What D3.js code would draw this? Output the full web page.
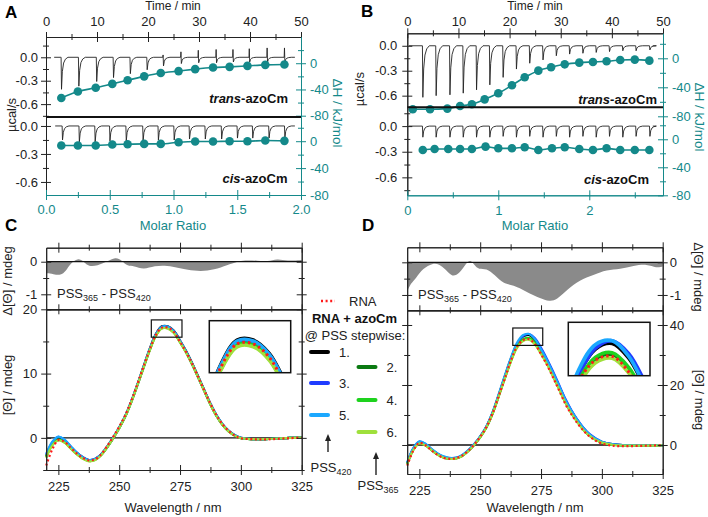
<!DOCTYPE html>
<html>
<head>
<meta charset="utf-8">
<script src="https://cdn.jsdelivr.net/npm/d3@7"></script>
<style>body{margin:0;background:#fff}svg{display:block}</style>
</head>
<body>
<script>
// ---------- ITC data, panel A ----------
var aTransTime = [2.9, 6.3, 9.8, 13.1, 16.4, 19.7, 22.9, 26.4, 29.8, 33.3, 36.6, 39.8, 43.3, 46.7];
var aTransDown = [-0.41, -0.37, -0.31, -0.26, -0.21, -0.16, -0.11, -0.08, -0.07, -0.07, -0.06, -0.06, -0.06, -0.06];
var aTransUp = [0, 0, 0, 0, 0, 0, 0.03, 0.07, 0.09, 0.1, 0.1, 0.11, 0.12, 0.12];
var aCisTime = [3.1, 6.4, 9.5, 12.4, 15.6, 18.9, 21.9, 25.0, 28.0, 31.1, 34.3, 37.4, 40.4, 43.6, 46.7];
var aCisDown = [-0.15, -0.17, -0.17, -0.16, -0.16, -0.16, -0.15, -0.15, -0.14, -0.14, -0.14, -0.13, -0.13, -0.13, -0.13];
var aMolar = [0.12, 0.25, 0.39, 0.52, 0.64, 0.77, 0.90, 1.04, 1.17, 1.31, 1.44, 1.58, 1.72, 1.87];
var aTransH = [-53, -43, -37.5, -31.5, -26, -20, -15, -12, -9, -6.5, -5.5, -4, -2.5, -2];
var aCisH = [-6.3, -6.3, -6.3, -5, -4.5, -4, -4, -1.5, -0.5, -0.5, 0, 0, 1, 0.5];

// ---------- ITC data, panel B ----------
var bTransTime = [2.9, 5.5, 8.2, 10.8, 13.4, 16.0, 18.6, 21.2, 23.8, 26.4, 29.0, 31.6, 34.2, 36.8, 39.4, 42.0, 44.6, 47.3];
var bTransDown = [-0.62, -0.6, -0.59, -0.57, -0.53, -0.47, -0.38, -0.28, -0.21, -0.17, -0.12, -0.1, -0.09, -0.08, -0.07, -0.06, -0.06, -0.05];
var bCisTime = [2.9, 5.5, 8.2, 10.8, 13.4, 16.0, 18.6, 21.2, 23.8, 26.4, 29.0, 31.6, 34.2, 36.8, 39.4, 42.0, 44.6, 47.3];
var bCisDown = [-0.13, -0.13, -0.13, -0.13, -0.13, -0.13, -0.12, -0.13, -0.12, -0.13, -0.12, -0.13, -0.12, -0.13, -0.12, -0.13, -0.12, -0.12];
var bTransMolar = [0.06, 0.25, 0.44, 0.58, 0.71, 0.85, 1.0, 1.15, 1.29, 1.44, 1.58, 1.73, 1.89, 2.04, 2.19, 2.34, 2.5, 2.66];
var bTransH = [-70.3, -70.3, -69.4, -65.7, -63.4, -56.6, -48.3, -37.2, -26.2, -17, -12.4, -8.3, -6, -5, -4.1, -2.3, -1.8, -3.2];
var bCisMolar = [0.17, 0.3, 0.45, 0.58, 0.71, 0.86, 1.0, 1.15, 1.29, 1.44, 1.59, 1.73, 1.89, 2.04, 2.19, 2.34, 2.5, 2.66];
var bCisH = [-15.2, -13.8, -13.8, -13.8, -13.8, -10.5, -12.9, -12.9, -11.4, -15.2, -12.9, -11.4, -13.8, -15.2, -12.9, -15.2, -15.2, -15.2];

// shape of one injection peak (minutes after start, fraction of up / down amplitude)
var pkT = [0, 0.06, 0.14, 0.3, 0.55, 0.9, 1.4];
var pkUp = [0, 1, 0, 0, 0, 0, 0];
var pkDown = [0, 0, 1, 0.45, 0.18, 0.06, 0];

// ---------- CD spectra ----------
var wl = [220,222.5,225,227.5,230,232.5,235,237.5,240,242.5,245,247.5,250,252.5,255,257.5,260,262.5,265,267.5,270,272.5,275,277.5,280,282.5,285,287.5,290,292.5,295,297.5,300,305,310,315,320,325];

var c1 = [-2.8,-0.9,0.0,-0.4,-1.4,-2.3,-3.0,-3.45,-3.3,-2.6,-1.4,0.0,1.6,3.4,5.7,8.3,11.1,13.8,16.1,17.35,17.35,16.65,15.15,13.5,11.6,9.5,7.4,5.3,3.5,2.1,1.1,0.4,0.0,-0.2,-0.2,-0.1,0.0,0.05];
var c3 = [-2.6,-0.7,0.15,-0.3,-1.3,-2.3,-3.0,-3.45,-3.3,-2.6,-1.4,0.0,1.6,3.4,5.7,8.3,11.0,13.7,16.0,17.25,17.25,16.55,15.05,13.4,11.5,9.4,7.3,5.3,3.5,2.1,1.1,0.4,0.0,-0.2,-0.2,-0.1,0.0,0.05];
var c5 = [-2.5,-0.6,0.2,-0.25,-1.25,-2.25,-3.0,-3.45,-3.3,-2.6,-1.4,0.0,1.6,3.4,5.7,8.3,11.1,13.8,16.05,17.3,17.3,16.6,15.1,13.45,11.55,9.45,7.35,5.3,3.5,2.1,1.1,0.4,0.0,-0.2,-0.2,-0.1,0.0,0.05];
var c2 = [-3.0,-1.1,-0.3,-0.7,-1.6,-2.5,-3.2,-3.6,-3.45,-2.7,-1.5,-0.1,1.5,3.3,5.6,8.2,10.9,13.6,15.85,17.05,17.05,16.35,14.9,13.3,11.4,9.4,7.3,5.2,3.4,2.0,1.0,0.35,-0.05,-0.2,-0.2,-0.1,0.0,0.05];
var c4 = [-2.9,-1.0,-0.25,-0.65,-1.55,-2.45,-3.15,-3.55,-3.4,-2.7,-1.5,-0.05,1.55,3.35,5.65,8.25,10.95,13.65,15.9,17.1,17.1,16.4,14.95,13.35,11.45,9.4,7.3,5.2,3.4,2.0,1.0,0.35,-0.05,-0.2,-0.2,-0.1,0.0,0.05];
var c6 = [-3.1,-1.2,-0.4,-0.75,-1.65,-2.55,-3.25,-3.65,-3.5,-2.75,-1.5,-0.1,1.5,3.3,5.6,8.2,10.9,13.55,15.8,17.0,17.0,16.3,14.85,13.25,11.4,9.35,7.25,5.2,3.4,2.0,1.0,0.35,-0.05,-0.2,-0.2,-0.1,0.0,0.05];
var cRna = [-4.3,-1.8,-0.35,-0.6,-1.5,-2.4,-3.1,-3.5,-3.35,-2.6,-1.3,0.15,1.75,3.55,5.8,8.4,11.1,13.7,15.95,17.15,17.15,16.45,14.95,13.35,11.5,9.45,7.35,5.3,3.5,2.1,1.1,0.35,-0.05,-0.2,-0.25,-0.15,-0.05,0.05];

var d1 = [-6.1,-1.3,1.0,0.2,-1.5,-3.0,-4.0,-4.45,-4.35,-3.55,-1.95,0.15,2.75,6.0,10.6,16.4,22.6,28.5,33.4,36.1,36.7,35.1,31.8,28.1,23.9,19.5,15.0,11.3,8.2,5.5,3.4,2.0,1.0,0.2,-0.1,-0.1,-0.1,-0.1];
var d3v = [-6.0,-1.2,1.1,0.3,-1.4,-2.9,-3.9,-4.4,-4.3,-3.5,-1.9,0.2,2.8,6.0,10.5,16.3,22.4,28.3,33.3,36.2,37.0,35.6,32.4,28.6,24.4,19.9,15.4,11.6,8.4,5.7,3.6,2.2,1.1,0.2,-0.1,-0.1,-0.1,-0.1];
var d5 = [-5.8,-1.0,1.2,0.4,-1.3,-2.8,-3.8,-4.3,-4.2,-3.4,-1.8,0.3,2.9,6.2,10.8,16.7,22.9,28.8,33.9,36.6,37.0,35.3,31.9,28.2,24.0,19.6,15.1,11.4,8.3,5.6,3.5,2.1,1.1,0.2,-0.1,-0.1,-0.1,-0.1];
var d2 = [-6.4,-1.6,0.6,-0.1,-1.7,-3.2,-4.2,-4.6,-4.5,-3.7,-2.1,0.0,2.6,5.8,10.3,16.0,22.0,27.7,32.5,35.0,35.5,33.9,30.7,27.1,22.9,18.6,14.2,10.6,7.6,5.0,3.0,1.7,0.8,0.0,-0.2,-0.2,-0.2,-0.1];
var d4 = [-6.3,-1.5,0.7,0.0,-1.6,-3.1,-4.1,-4.55,-4.45,-3.65,-2.05,0.05,2.65,5.85,10.35,16.1,22.1,27.9,32.7,35.2,35.7,34.1,30.9,27.3,23.1,18.8,14.4,10.8,7.7,5.1,3.1,1.8,0.8,0.0,-0.2,-0.2,-0.2,-0.1];
var d6 = [-6.5,-1.7,0.5,-0.15,-1.75,-3.25,-4.25,-4.65,-4.55,-3.75,-2.15,-0.05,2.55,5.75,10.2,15.9,21.8,27.5,32.2,34.6,35.1,33.5,30.3,26.8,22.7,18.4,14.1,10.5,7.5,4.9,3.0,1.7,0.8,0.0,-0.2,-0.2,-0.2,-0.1];
var dRna = [-6.9,-1.9,0.7,-0.1,-1.8,-3.3,-4.3,-4.6,-4.4,-3.6,-2.0,0.1,2.7,5.9,10.4,16.1,21.9,27.9,32.6,34.9,35.3,33.6,30.3,26.6,22.4,18.1,13.7,10.2,7.2,4.7,2.8,1.4,0.5,-0.3,-0.4,-0.3,-0.2,-0.1];

// difference spectra PSS365 - PSS420
var cDiffW = [220,223,226,228,230,233,235.5,237.5,241,245,248.5,251,253.5,256,260,264.5,270,274,278,283.5,289,294.5,298.5,301.5,307,311,315,319,325];
var cDiffV = [-0.35,-0.38,-0.42,-0.3,-0.05,0.12,0,-0.15,-0.12,0,0.15,0.05,-0.15,-0.12,-0.25,-0.12,-0.12,-0.18,-0.25,-0.3,-0.25,-0.1,0,0.05,0.03,0,0.1,0.02,0.05];
var dDiffW = [220,221.5,223.5,226.5,230.5,233,236,238.5,241.5,244,246,247.5,249.5,252.5,256,259.5,263.5,269,274.5,278.5,281.5,285.5,291,296.5,302,307.5,313,318.5,322.5,325];
var dDiffV = [-0.9,-0.64,-0.5,-0.18,-0.03,-0.05,-0.23,-0.46,-0.34,-0.05,0.09,-0.08,-0.23,-0.18,-0.39,-0.66,-0.69,-0.9,-1.1,-1.2,-1.15,-0.85,-0.54,-0.39,-0.23,-0.21,-0.11,-0.05,-0.18,-0.13];

var seriesOrder = ["s1", "s2", "s3", "s4", "s5", "s6", "rna"];
var seriesColor = {s1: "#000000", s2: "#0b7a12", s3: "#1f3cff", s4: "#1ed21e", s5: "#1ba8ff", s6: "#9fe03c", rna: "#ff1a1a"};

var FONT = "'Liberation Sans', Arial, sans-serif";
var TEAL = "#14898a";
var INK = "#222";

var svg = d3.select("body").append("svg").attr("width", 708).attr("height", 517)
  .style("font-family", FONT);

// axis with ticks crossing the line (Origin style)
function ax(g, kind, scale, majors, minors, o) {
  o = o || {};
  var gen = {left: d3.axisLeft, right: d3.axisRight, top: d3.axisTop, bottom: d3.axisBottom}[kind];
  var col = o.color || INK;
  var G = g.append("g").attr("transform", "translate(" + (o.x || 0) + "," + (o.y || 0) + ")");
  if (minors) G.append("g").call(gen(scale).tickValues(minors).tickSize(3).tickSizeOuter(0).tickFormat(""));
  G.append("g").call(gen(scale).tickValues(majors).tickSize(5).tickSizeOuter(0)
    .tickPadding(o.pad == null ? 3 : o.pad)
    .tickFormat(o.noLabels ? "" : (o.fmt || function(d) { return d; })));
  var vert = kind == "left" || kind == "right";
  G.selectAll(".tick line").each(function() {
    var l = d3.select(this);
    if (vert) l.attr("x1", -l.attr("x2")); else l.attr("y1", -l.attr("y2"));
  });
  G.selectAll("path.domain").attr("stroke", col).attr("stroke-width", o.sw || 1);
  G.selectAll(".tick line").attr("stroke", col).attr("stroke-width", 1);
  G.selectAll("text").attr("fill", col).style("font-family", FONT).style("font-size", (o.fs || 13) + "px");
  return G;
}

function txt(x, y, s, o) {
  o = o || {};
  var t = svg.append("text").attr("x", x).attr("y", y).attr("font-size", o.fs || 13)
    .attr("fill", o.color || INK).attr("text-anchor", o.anchor || "start").text(s);
  if (o.bold) t.attr("font-weight", "bold");
  if (o.rot) t.attr("transform", "rotate(" + o.rot + "," + x + "," + y + ")").attr("dy", "0.35em");
  return t;
}

function pssLabel(x, y, parts, anchor) {
  var t = svg.append("text").attr("x", x).attr("y", y).attr("font-size", 13).attr("fill", INK)
    .attr("text-anchor", anchor || "start");
  parts.forEach(function(p) {
    if (p.sub) t.append("tspan").attr("font-size", 9).attr("dy", 3).text(p.s);
    else t.append("tspan").attr("dy", p.after ? -3 : 0).text(p.s);
  });
}

function azoLabel(x, y, pre) {
  var t = svg.append("text").attr("x", x).attr("y", y).attr("font-size", 13).attr("font-weight", "bold")
    .attr("fill", "#111").attr("text-anchor", "end");
  t.append("tspan").attr("font-style", "italic").text(pre);
  t.append("tspan").text("-azoCm");
}

// ---------- ITC panel ----------
function itc(p) {
  var g = svg.append("g");
  var time = d3.scaleLinear().domain([0, 50]).range([p.x0, p.x1]);
  var molar = d3.scaleLinear().domain([0, p.mMax]).range([p.x0, p.x1]);
  var uL = d3.scaleLinear().domain(p.uL).range([p.yT, p.yM]);
  var uR = d3.scaleLinear().domain(p.uR).range([p.yT, p.uRBot]);
  var lL = d3.scaleLinear().domain(p.lL).range([p.yM, p.yB]);
  var lR = d3.scaleLinear().domain(p.lR).range([p.yM, p.yB]);

  // raw power traces
  [[p.trans, uL], [p.cis, lL]].forEach(function(pair) {
    var tr = pair[0], y = pair[1];
    var pts = [[tr.start, 0]];
    tr.times.forEach(function(t, i) {
      pkT.forEach(function(dt, k) {
        pts.push([t + dt, (tr.up ? tr.up[i] : 0) * pkUp[k] + tr.down[i] * pkDown[k]]);
      });
    });
    pts.push([tr.end, 0]);
    g.append("path").datum(pts)
      .attr("d", d3.line().x(function(d) { return time(d[0]); }).y(function(d) { return y(d[1]); }))
      .attr("fill", "none").attr("stroke", "#222").attr("stroke-width", 0.9);
  });

  // integrated heats
  [[p.tDots, uR], [p.cDots, lR]].forEach(function(pair) {
    var dd = pair[0], y = pair[1];
    var pts = dd.x.map(function(v, i) { return [v, dd.h[i]]; });
    g.append("path").datum(pts)
      .attr("d", d3.line().x(function(d) { return molar(d[0]); }).y(function(d) { return y(d[1]); }).curve(d3.curveMonotoneX))
      .attr("fill", "none").attr("stroke", TEAL).attr("stroke-width", 1.6);
    g.selectAll(null).data(pts).enter().append("circle")
      .attr("cx", function(d) { return molar(d[0]); })
      .attr("cy", function(d) { return y(d[1]); })
      .attr("r", 4.3).attr("fill", TEAL);
  });

  var fmt1 = function(d) { return d.toFixed(1); };
  ax(g, "top", time, [0, 10, 20, 30, 40, 50], [5, 15, 25, 35, 45], {y: p.yT, pad: p.topPad});
  ax(g, "left", uL, [0, -0.3, -0.6], p.uLminor, {x: p.x0, fmt: fmt1, pad: p.leftPad});
  ax(g, "left", lL, [0, -0.3, -0.6], p.lLminor, {x: p.x0, fmt: fmt1, pad: p.leftPad});
  ax(g, "right", uR, [0, -40, -80], [20, -20, -60], {x: p.x1, color: TEAL, pad: 4});
  ax(g, "right", lR, [0, -40, -80], [20, -20, -60], {x: p.x1, color: TEAL, pad: 4});
  ax(g, "bottom", molar, p.mMajor, p.mMinor, {y: p.yB, color: TEAL, pad: 5, fmt: p.mFmt});
  g.append("line").attr("x1", p.x0).attr("x2", p.x1).attr("y1", p.yM).attr("y2", p.yM)
    .attr("stroke", "#111").attr("stroke-width", 2);
}

itc({
  x0: 46, x1: 301, yT: 37, yM: 117, yB: 195, uRBot: 117,
  uL: [0.26, -0.765], uR: [40, -82], lL: [0.096, -0.74], lR: [36, -80], mMax: 2,
  uLminor: [0.15, -0.15, -0.45, -0.75], lLminor: [-0.15, -0.45],
  mMajor: [0, 0.5, 1, 1.5, 2], mMinor: [0.25, 0.75, 1.25, 1.75], mFmt: function(d) { return d.toFixed(1); },
  topPad: 6.5, leftPad: 3,
  trans: {times: aTransTime, down: aTransDown, up: aTransUp, start: 1.6, end: 48.8},
  cis: {times: aCisTime, down: aCisDown, start: 1.8, end: 48.8},
  tDots: {x: aMolar, h: aTransH}, cDots: {x: aMolar, h: aCisH}
});

itc({
  x0: 407.3, x1: 663, yT: 33.3, yM: 107.3, yB: 195.3, uRBot: 116.3,
  uL: [0.15, -0.74], uR: [34.5, -80], lL: [0.22, -0.81], lR: [45.7, -80], mMax: 2.81,
  uLminor: [-0.15, -0.45], lLminor: [0.15, -0.15, -0.45, -0.75],
  mMajor: [0, 1, 2], mMinor: [0.5, 1.5, 2.5], mFmt: function(d) { return d; },
  topPad: 2.8, leftPad: 5,
  trans: {times: bTransTime, down: bTransDown, start: 0.3, end: 48},
  cis: {times: bCisTime, down: bCisDown, start: 0.3, end: 48},
  tDots: {x: bTransMolar, h: bTransH}, cDots: {x: bCisMolar, h: bCisH}
});

// ITC titles
txt(5, 18, "A", {fs: 17, bold: true, color: "#000"});
txt(361, 17, "B", {fs: 17, bold: true, color: "#000"});
txt(173, 10, "Time / min", {anchor: "middle", fs: 12});
txt(535, 10, "Time / min", {anchor: "middle", fs: 12});
txt(173, 229.5, "Molar Ratio", {anchor: "middle", color: TEAL});
txt(535, 229.5, "Molar Ratio", {anchor: "middle", color: TEAL});
txt(11, 115, "µcal/s", {anchor: "middle", rot: -90});
txt(359, 89, "µcal/s", {anchor: "middle", rot: -90});
txt(338, 113, "ΔH / kJ/mol", {anchor: "middle", rot: 90, color: TEAL, fs: 13.5});
txt(700, 117, "ΔH / kJ/mol", {anchor: "middle", rot: 90, color: TEAL, fs: 13.5});
azoLabel(288, 102.5, "trans");
azoLabel(287.5, 182.5, "cis");
azoLabel(657, 103.5, "trans");
azoLabel(649, 183.5, "cis");

// ---------- CD panel ----------
function cd(p) {
  var g = svg.append("g");
  var x = d3.scaleLinear().domain([220, 325]).range([p.x0, p.x1]);
  var yd = d3.scaleLinear().domain(p.dDom).range([p.yT, p.yM]);
  var ym = d3.scaleLinear().domain(p.mDom).range([p.yM, p.yB]);

  // difference spectrum
  var dpts = p.dW.map(function(w, i) { return [w, p.dV[i]]; });
  g.append("path").datum(dpts)
    .attr("d", d3.area().x(function(d) { return x(d[0]); }).y0(yd(0)).y1(function(d) { return yd(d[1]); }).curve(d3.curveBasis))
    .attr("fill", "#8a8a8a");
  g.append("line").attr("x1", p.x0).attr("x2", p.x1).attr("y1", yd(0)).attr("y2", yd(0))
    .attr("stroke", "#111").attr("stroke-width", 1.3);
  g.append("line").attr("x1", p.x0).attr("x2", p.x1).attr("y1", ym(0)).attr("y2", ym(0))
    .attr("stroke", "#111").attr("stroke-width", 1.3);

  function drawSeries(gg, xs, ys, w, dotted) {
    var line = d3.line().x(function(d) { return xs(d[0]); }).y(function(d) { return ys(d[1]); })
      .curve(d3.curveCatmullRom.alpha(0.5));
    seriesOrder.forEach(function(k) {
      var pts = wl.map(function(v, i) { return [v, p.series[k][i]]; });
      var path = gg.append("path").datum(pts).attr("d", line).attr("fill", "none")
        .attr("stroke", seriesColor[k]).attr("stroke-width", k == "rna" ? dotted[0] : w);
      if (k == "rna") path.attr("stroke-dasharray", dotted[1]);
    });
  }
  drawSeries(g, x, ym, 2.2, [2.2, "2,2.6"]);

  // zoom box in main plot
  var z = p.zoom;
  g.append("rect").attr("x", x(z[0])).attr("y", ym(z[3]))
    .attr("width", x(z[1]) - x(z[0])).attr("height", ym(z[2]) - ym(z[3]))
    .attr("fill", "none").attr("stroke", "#111").attr("stroke-width", 1.2);

  // inset
  var ix = d3.scaleLinear().domain([z[0], z[1]]).range([p.ib[0], p.ib[2]]);
  var iy = d3.scaleLinear().domain([z[2], z[3]]).range([p.ib[3], p.ib[1]]);
  var cid = "clip" + p.id;
  svg.append("clipPath").attr("id", cid).append("rect")
    .attr("x", p.ib[0]).attr("y", p.ib[1]).attr("width", p.ib[2] - p.ib[0]).attr("height", p.ib[3] - p.ib[1]);
  g.append("rect").attr("x", p.ib[0]).attr("y", p.ib[1]).attr("width", p.ib[2] - p.ib[0])
    .attr("height", p.ib[3] - p.ib[1]).attr("fill", "#fff");
  var ig = g.append("g").attr("clip-path", "url(#" + cid + ")");
  drawSeries(ig, ix, iy, 3.6, [3, "2.5,3"]);
  g.append("rect").attr("x", p.ib[0]).attr("y", p.ib[1]).attr("width", p.ib[2] - p.ib[0])
    .attr("height", p.ib[3] - p.ib[1]).attr("fill", "none").attr("stroke", "#111").attr("stroke-width", 1.5);

  var xMaj = [225, 250, 275, 300, 325], xMin = [237.5, 262.5, 287.5, 312.5];
  ax(g, "top", x, xMaj, xMin, {y: p.yT, noLabels: true});
  ax(g, "bottom", x, xMaj, xMin, {y: p.yM, noLabels: true, sw: 1.5});
  ax(g, "bottom", x, xMaj, xMin, {y: p.yB, pad: 7});
  ax(g, "left", yd, [0, -1], [-0.5], {x: p.x0, noLabels: !p.leftLabels, pad: 4});
  ax(g, "right", yd, [0, -1], [-0.5], {x: p.x1, noLabels: p.leftLabels, pad: 2});
  ax(g, "left", ym, p.mMaj, p.mMin, {x: p.x0, noLabels: !p.leftLabels, pad: 4});
  ax(g, "right", ym, p.mMaj, p.mMin, {x: p.x1, noLabels: p.leftLabels, pad: 2});
}

cd({
  id: "C", x0: 46.2, x1: 301.7, yT: 247.7, yM: 309.3, yB: 470,
  dDom: [0.43, -1.46], mDom: [20, -5], mMaj: [0, 10, 20], mMin: [-5, 5, 15], leftLabels: true,
  dW: cDiffW, dV: cDiffV,
  series: {s1: c1, s2: c2, s3: c3, s4: c4, s5: c5, s6: c6, rna: cRna},
  ib: [209.3, 320.7, 290.7, 372.7], zoom: [263.2, 275.8, 15.66, 18.35]
});

cd({
  id: "D", x0: 407.2, x1: 662.7, yT: 247.3, yM: 310.3, yB: 474,
  dDom: [0.46, -1.47], mDom: [44.9, -9.67], mMaj: [0, 20, 40], mMin: [10, 30], leftLabels: false,
  dW: dDiffW, dV: dDiffV,
  series: {s1: d1, s2: d2, s3: d3v, s4: d4, s5: d5, s6: d6, rna: dRna},
  ib: [568.3, 322.3, 650, 375.7], zoom: [263.4, 275.7, 33.2, 39]
});

// CD titles
txt(5, 231, "C", {fs: 17, bold: true, color: "#000"});
txt(362, 231, "D", {fs: 17, bold: true, color: "#000"});
txt(7, 281, "Δ[Θ] / mdeg", {anchor: "middle", rot: -90});
txt(7, 385, "[Θ] / mdeg", {anchor: "middle", rot: -90});
txt(699, 277, "Δ[Θ] / mdeg", {anchor: "middle", rot: 90});
txt(700, 400, "[Θ] / mdeg", {anchor: "middle", rot: 90});
txt(173, 512, "Wavelength / nm", {anchor: "middle"});
txt(535, 512, "Wavelength / nm", {anchor: "middle"});
var pssParts = [{s: "PSS"}, {s: "365", sub: true}, {s: " - PSS", after: true}, {s: "420", sub: true}];
pssLabel(57, 298, pssParts);
pssLabel(418, 299, pssParts);

// ---------- legend ----------
svg.append("line").attr("x1", 321).attr("x2", 335).attr("y1", 301).attr("y2", 301)
  .attr("stroke", seriesColor.rna).attr("stroke-width", 2.4).attr("stroke-dasharray", "2,2.6");
txt(349, 305.5, "RNA");
txt(354.5, 322.5, "RNA + azoCm", {anchor: "middle", bold: true, color: "#111"});
txt(355, 339.5, "@ PSS stepwise:", {anchor: "middle"});

var legendRows = [
  {k: "s1", label: "1.", col: 0, y: 352},
  {k: "s2", label: "2.", col: 1, y: 367},
  {k: "s3", label: "3.", col: 0, y: 383},
  {k: "s4", label: "4.", col: 1, y: 400},
  {k: "s5", label: "5.", col: 0, y: 415},
  {k: "s6", label: "6.", col: 1, y: 432}
];
var legendX = [311, 358.5];
legendRows.forEach(function(r) {
  var x0 = legendX[r.col];
  svg.append("line").attr("x1", x0).attr("x2", x0 + 17).attr("y1", r.y).attr("y2", r.y)
    .attr("stroke", seriesColor[r.k]).attr("stroke-width", 4).attr("stroke-linecap", "round");
  txt(x0 + 28, r.y + 4.5, r.label);
});

function arrow(x, yBot, yTip) {
  svg.append("line").attr("x1", x).attr("x2", x).attr("y1", yBot).attr("y2", yTip + 5)
    .attr("stroke", "#222").attr("stroke-width", 1.4);
  svg.append("path").attr("d", "M" + (x - 3) + "," + (yTip + 7) + "L" + x + "," + yTip + "L" + (x + 3) + "," + (yTip + 7) + "Z")
    .attr("fill", "#222");
}
arrow(328, 452, 434);
arrow(376, 475, 452);
pssLabel(331, 472, [{s: "PSS"}, {s: "420", sub: true}], "middle");
pssLabel(378, 490, [{s: "PSS"}, {s: "365", sub: true}], "middle");
</script>
</body>
</html>
